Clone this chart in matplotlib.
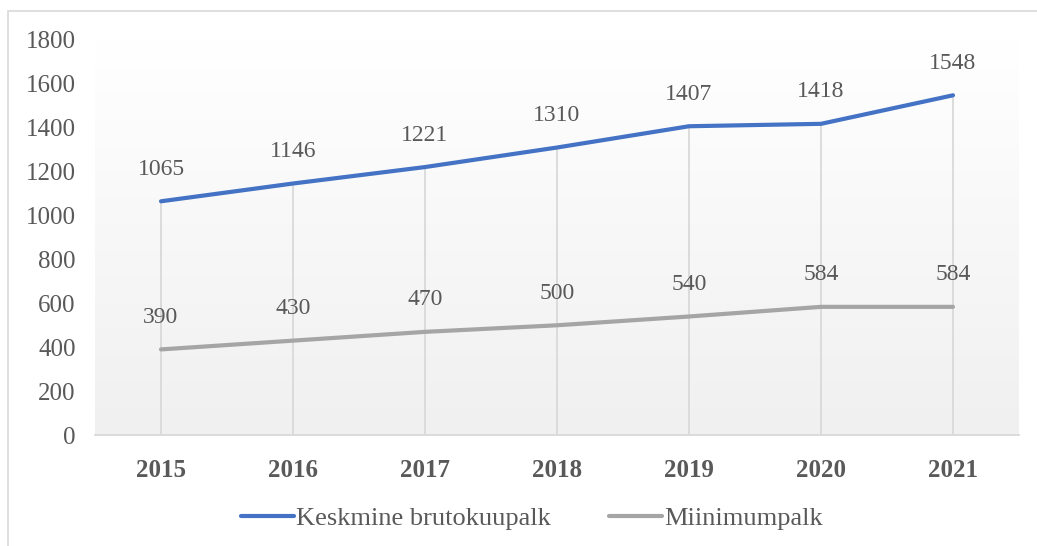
import numpy as np
from matplotlib import pyplot as plt
from matplotlib.patches import Rectangle
from matplotlib.colors import LinearSegmentedColormap

years = ['2015', '2016', '2017', '2018', '2019', '2020', '2021']
keskmine = [1065, 1146, 1221, 1310, 1407, 1418, 1548]
miinimum = [390, 430, 470, 500, 540, 584, 584]
yticks = [0, 200, 400, 600, 800, 1000, 1200, 1400, 1600, 1800]

plt.rcParams['font.family'] = ['Liberation Serif', 'DejaVu Serif']
txt = '#595959'

fig = plt.figure(figsize=(10.37, 5.46), dpi=100)
# chart border (cropped on right and bottom)
fig.patches.append(Rectangle((8 / 1037, -0.1), 1.2, 1 - 11 / 546 + 0.1,
                             transform=fig.transFigure, fill=False,
                             edgecolor='#d9d9d9', linewidth=1.2))

ax = fig.add_axes([95 / 1037, 1 - 435 / 546, (1019 - 95) / 1037, (435 - 40) / 546])
x = np.arange(len(years))
ax.set_xlim(-0.5, len(years) - 0.5)
ax.set_ylim(0, 1800)

# gradient background of plot area
cmap = LinearSegmentedColormap.from_list('bg', ['#f0f0f0', '#ffffff'])
grad = np.linspace(0, 1, 256).reshape(-1, 1)
ax.imshow(grad, extent=(-0.5, len(years) - 0.5, 0, 1800), origin='lower',
          aspect='auto', cmap=cmap, zorder=0)

# drop lines
ax.vlines(x, 0, np.maximum(keskmine, miinimum), color='#d9d9d9', linewidth=1.3, zorder=1)

ax.plot(x, keskmine, color='#4472C4', linewidth=3, solid_capstyle='round',
        label='Keskmine brutokuupalk', zorder=3)
ax.plot(x, miinimum, color='#A5A5A5', linewidth=3, solid_capstyle='round',
        label='Miinimumpalk', zorder=3)

for xi, v in zip(x, keskmine):
    ax.annotate(str(v), (xi, v), xytext=(0, 23), textcoords='offset points',
                ha='center', va='center', fontsize=17, color=txt)
for xi, v in zip(x, miinimum):
    ax.annotate(str(v), (xi, v), xytext=(0, 23), textcoords='offset points',
                ha='center', va='center', fontsize=17, color=txt)

ax.set_xticks(x)
ax.set_xticklabels(years, fontsize=18, fontweight='bold', color=txt)
ax.set_yticks(yticks)
ax.set_yticklabels([str(t) for t in yticks], fontsize=18, color=txt)
ax.tick_params(axis='both', length=0)
ax.tick_params(axis='x', pad=17)
ax.tick_params(axis='y', pad=14)

for s in ['top', 'right', 'left']:
    ax.spines[s].set_visible(False)
ax.spines['bottom'].set_color('#d9d9d9')
ax.spines['bottom'].set_linewidth(1.3)
ax.spines['bottom'].set_zorder(2)

leg = fig.legend(loc='center', bbox_to_anchor=(532 / 1037, 1 - 518 / 546), ncol=2,
                 frameon=False, fontsize=19, handlelength=2.0, handletextpad=0.1,
                 columnspacing=2.2)
for t in leg.get_texts():
    t.set_color(txt)

fig.savefig('out.png', dpi=100)
